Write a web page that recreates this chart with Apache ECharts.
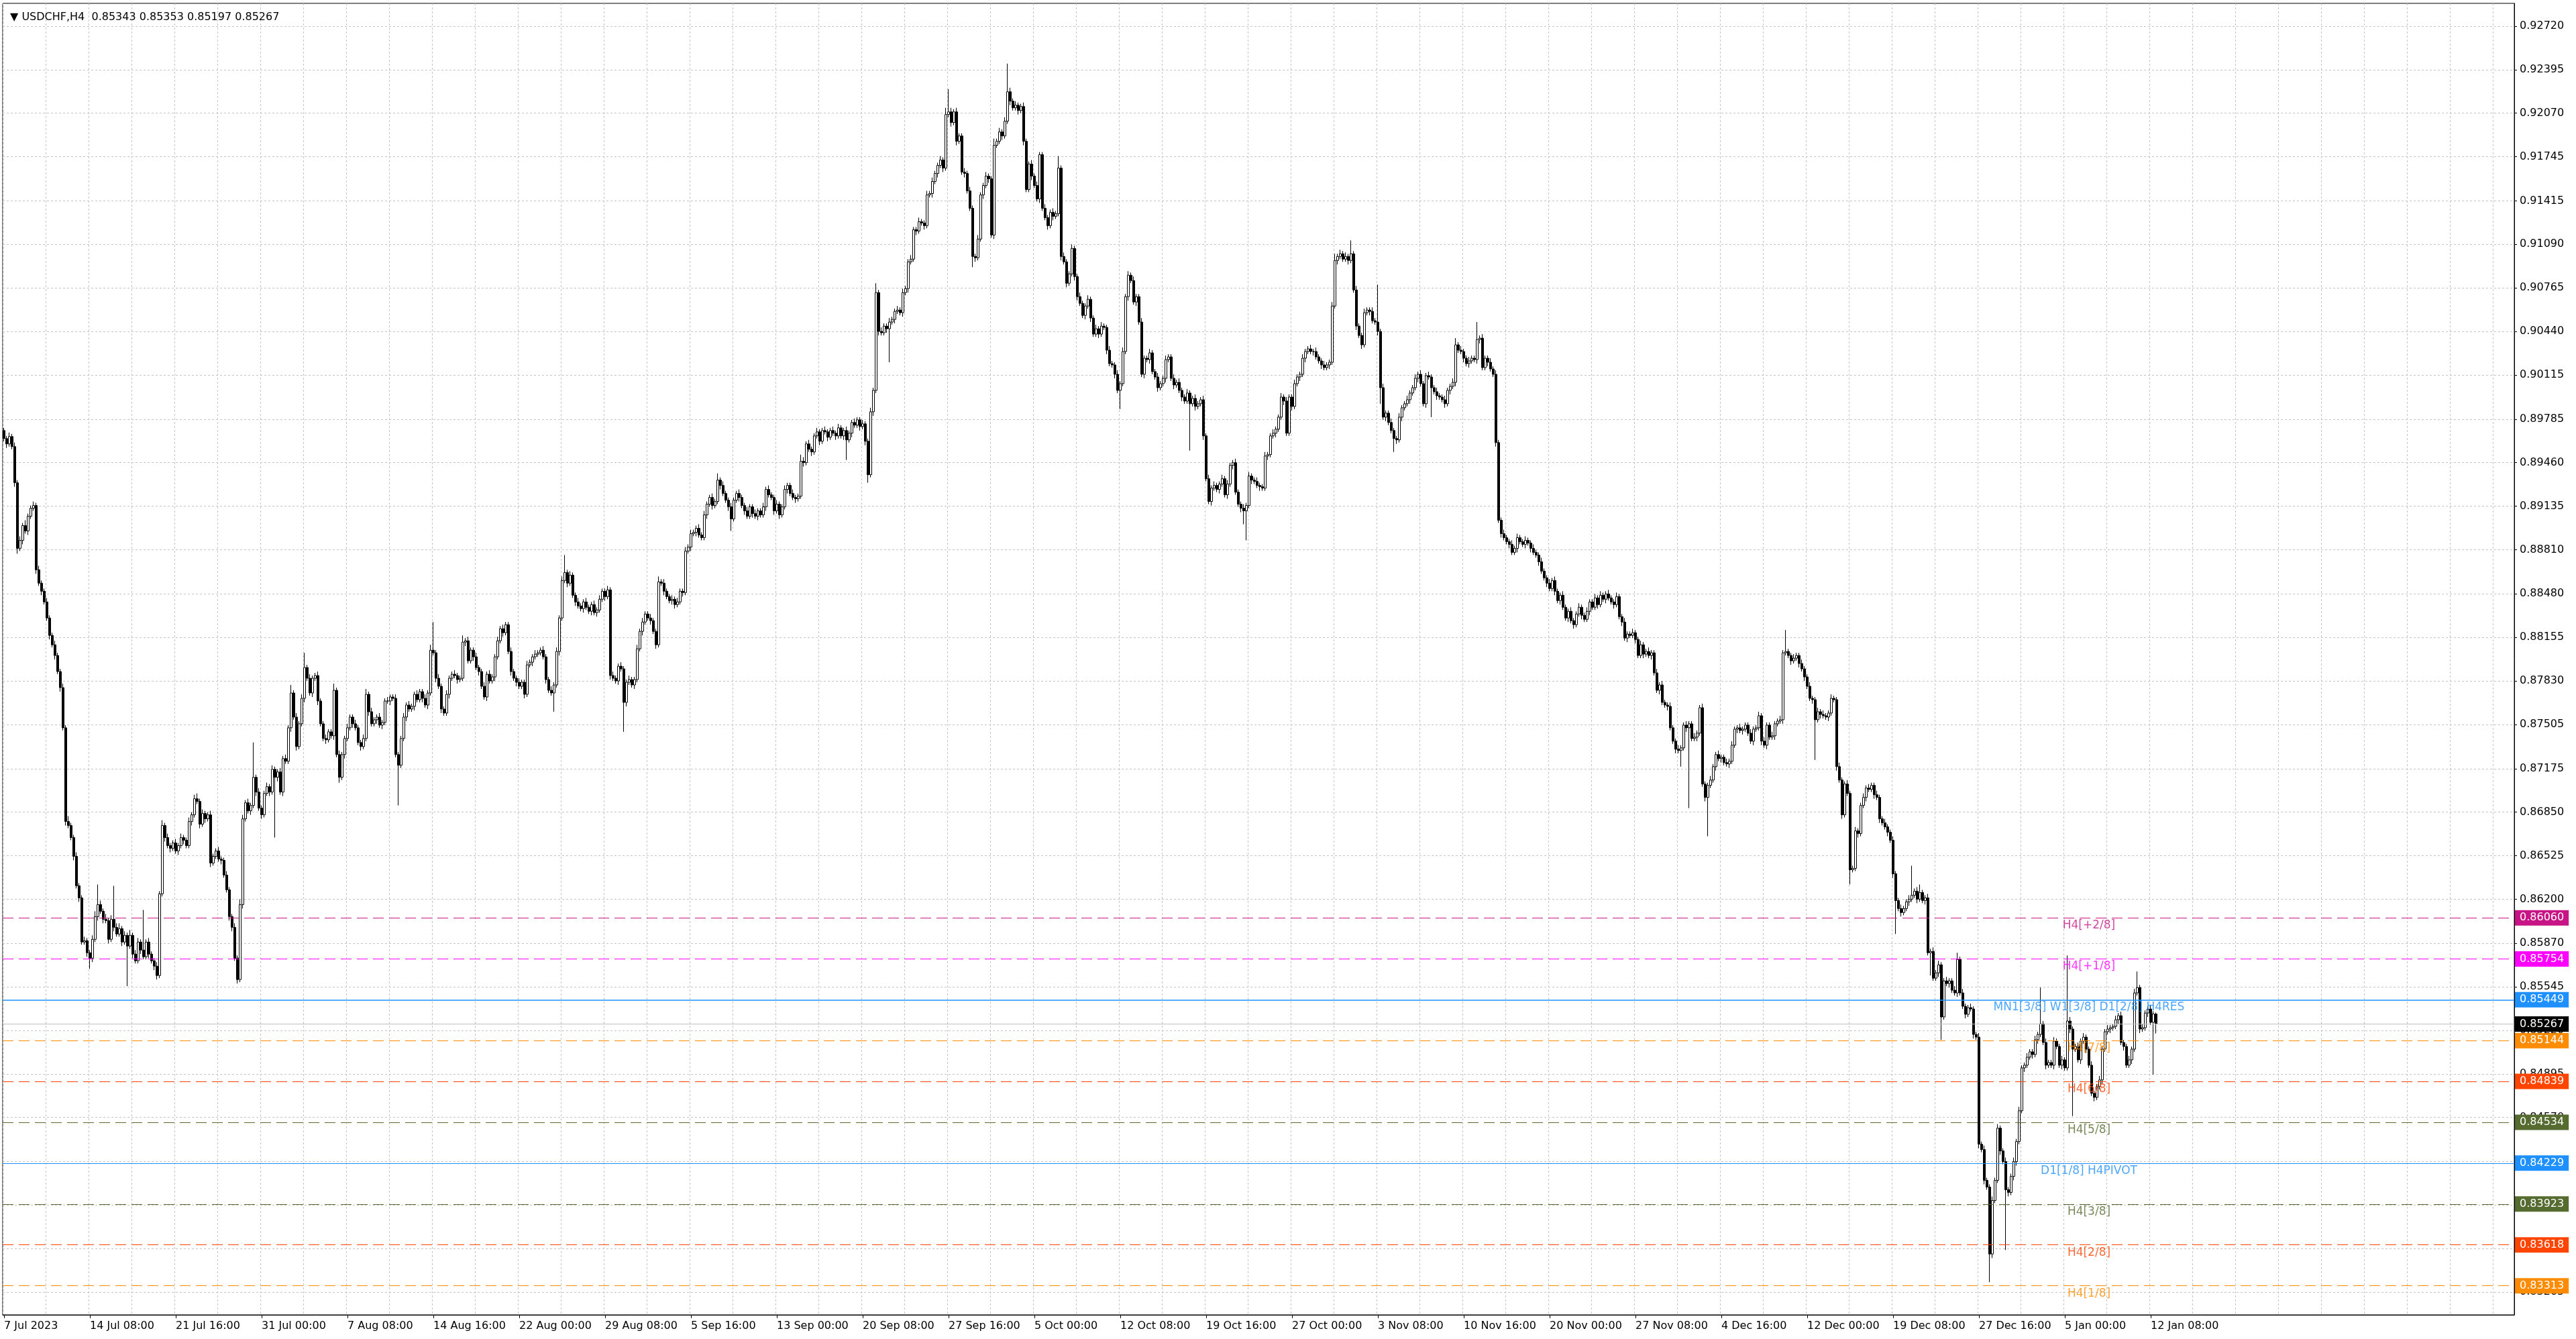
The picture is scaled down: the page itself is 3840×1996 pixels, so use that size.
<!DOCTYPE html>
<html lang="en">
<head>
<meta charset="UTF-8">
<title>USDCHF,H4</title>
<script src="https://cdn.jsdelivr.net/npm/echarts@6/dist/echarts.min.js"></script>
<style>
  body { margin: 0; background: #fff; }
  #main { width: 100vw; height: 100vh; }
</style>
</head>
<body>
<div id="main"></div>
<script>
var symbolName = 'USDCHF,H4';

// H4 bars, prices in 1/100000 (5-digit points); each bar opens at the previous close
var firstOpen = 89700;
var closes = [
  89640,89600,89655,89580,89310,88820,88880,88990,88950,89060,
  89120,89140,88660,88560,88500,88420,88300,88170,88100,88020,
  87900,87780,87480,86780,86750,86660,86520,86300,86210,85880,
  85890,85800,85760,85900,86070,86160,86110,86050,86040,85900,
  86050,85990,85940,85980,85880,85930,85850,85930,85790,85740,
  85880,85820,85770,85880,85790,85740,85700,85630,86240,86750,
  86660,86600,86580,86620,86560,86600,86660,86640,86600,86780,
  86830,86950,86930,86760,86840,86800,86830,86470,86520,86560,
  86500,86490,86380,86270,86070,85990,85760,85600,86160,86800,
  86920,86860,86900,87110,87000,86880,86830,86990,87040,87000,
  87170,87110,87150,87000,87250,87230,87480,87740,87560,87340,
  87510,87700,87930,87850,87740,87850,87870,87680,87510,87400,
  87390,87450,87420,87760,87280,87110,87280,87400,87480,87560,
  87510,87480,87370,87340,87400,87730,87600,87510,87540,87560,
  87500,87520,87680,87680,87710,87700,87280,87200,87400,87560,
  87650,87620,87640,87730,87690,87750,87700,87650,87740,88060,
  88040,87850,87790,87620,87590,87730,87850,87880,87870,87840,
  87850,88120,88130,87980,88060,88010,87930,87900,87790,87710,
  87880,87830,87860,88010,88130,88220,88190,88250,88050,87900,
  87850,87820,87790,87820,87730,87950,87970,88010,88030,88040,
  88060,88010,87840,87760,87740,87800,88050,88300,88580,88640,
  88560,88620,88470,88420,88390,88370,88420,88380,88350,88400,
  88340,88360,88440,88500,88460,88510,87870,87850,87830,87940,
  87920,87670,87820,87840,87800,87840,88070,88200,88270,88330,
  88300,88280,88200,88100,88570,88560,88500,88460,88430,88440,
  88400,88420,88500,88490,88800,88830,88930,88940,88970,88920,
  88900,89070,89150,89200,89140,89170,89330,89290,89230,89180,
  89130,89040,89180,89230,89200,89140,89100,89060,89130,89080,
  89060,89100,89070,89130,89260,89220,89200,89100,89150,89070,
  89130,89260,89290,89230,89200,89190,89210,89470,89460,89600,
  89560,89540,89660,89690,89620,89700,89690,89650,89700,89680,
  89660,89720,89660,89700,89630,89680,89760,89740,89780,89730,
  89750,89620,89370,89840,90000,90730,90440,90430,90480,90460,
  90510,90530,90590,90600,90580,90730,90760,90960,90980,91200,
  91190,91260,91250,91230,91460,91470,91560,91620,91680,91720,
  91660,92060,92080,92000,92080,91860,91900,91630,91620,91490,
  91360,91000,90990,91130,91460,91530,91600,91580,91160,91830,
  91860,91930,91900,92010,92230,92160,92110,92130,92090,92120,
  91860,91500,91690,91600,91530,91430,91760,91360,91290,91230,
  91330,91300,91320,91660,91000,90960,90800,90870,91060,90850,
  90700,90650,90560,90630,90680,90540,90420,90460,90420,90480,
  90470,90300,90200,90190,90120,90000,90050,90290,90700,90860,
  90820,90660,90700,90510,90120,90240,90230,90280,90140,90100,
  90020,90050,90090,90230,90250,90090,90040,90060,90000,89950,
  89920,89980,89900,89940,89880,89900,89930,89660,89340,89170,
  89270,89290,89260,89300,89340,89220,89300,89440,89460,89240,
  89150,89120,89100,89140,89360,89330,89320,89290,89280,89270,
  89510,89520,89660,89680,89710,89800,89950,89920,89680,89950,
  89880,90050,90100,90120,90240,90290,90310,90290,90290,90250,
  90220,90190,90170,90190,90210,90630,90970,91000,91020,90980,
  91000,90970,91020,90750,90480,90410,90340,90580,90600,90590,
  90520,90510,90440,90020,89800,89830,89760,89700,89640,89630,
  89800,89870,89900,89930,89980,90020,90090,90120,90050,89900,
  90110,90100,90020,89990,89960,89950,89930,89900,90000,90030,
  90060,90340,90300,90290,90240,90200,90220,90240,90230,90380,
  90390,90170,90240,90210,90160,90120,89610,89030,88930,88900,
  88870,88850,88790,88820,88900,88870,88850,88880,88860,88820,
  88790,88770,88720,88650,88600,88560,88520,88580,88500,88430,
  88470,88380,88300,88350,88280,88250,88330,88380,88320,88290,
  88350,88420,88380,88450,88400,88470,88440,88480,88450,88420,
  88400,88460,88310,88270,88150,88180,88170,88190,88140,88020,
  88100,88030,88050,88020,88040,87890,87760,87800,87670,87650,
  87640,87480,87380,87320,87310,87330,87500,87480,87510,87400,
  87410,87440,87630,87060,86960,87050,87090,87190,87280,87250,
  87260,87220,87210,87230,87350,87470,87480,87460,87470,87500,
  87440,87380,87470,87480,87570,87380,87350,87500,87410,87420,
  87510,87530,87540,88040,88050,88020,87980,88000,88020,87960,
  87920,87860,87790,87700,87690,87540,87600,87580,87570,87560,
  87590,87700,87690,87190,87090,86830,87060,86990,86420,86430,
  86710,86690,86900,86960,87030,87020,87050,86980,86960,86800,
  86770,86740,86700,86640,86390,86190,86130,86100,86130,86180,
  86200,86230,86260,86200,86250,86190,86210,85800,85810,85610,
  85650,85710,85320,85590,85570,85590,85520,85500,85750,85500,
  85400,85340,85390,85380,85190,85170,84370,84330,84100,84050,
  83550,83950,84100,84490,84320,84240,84030,84010,84130,84240,
  84390,84620,84940,84960,85020,85060,85040,85150,85190,85270,
  85130,84960,84980,84960,85140,85100,84960,85000,84940,85290,
  85230,85080,85100,85000,85140,85170,85080,84960,84750,84720,
  84800,84850,85080,85210,85230,85240,85250,85300,85330,85130,
  85100,84960,85000,85080,85500,85540,85230,85240,85350,85380,
  85280,85343,85267
];
// wick lengths in pips above the body top / below the body bottom
var upWicks = [
  2,2,3,2,3,2,3,2,4,2, 2,3,2,3,2,2,3,2,2,3, 2,2,3,2,4,2,2,3,2,2, 3,2,2,3,4,15,3,2,4,2, 3,25,3,4,2,3,2,4,2,3,
  3,2,30,2,3,2,2,3,2,4, 2,3,2,2,3,2,3,2,2,3, 2,3,4,2,3,2,2,3,2,2, 3,2,2,3,2,2,3,2,4,3, 2,3,2,26,2,3,2,2,3,2,
  3,2,2,3,2,3,2,6,2,3, 2,3,11,2,3,2,2,3,2,2, 3,2,2,5,2,3,2,2,3,2, 2,3,2,2,3,4,2,3,2,2, 3,2,2,3,2,2,3,2,2,3,
  2,3,2,2,3,2,2,3,2,4, 21,2,3,2,2,3,2,2,3,2, 2,5,2,3,2,2,3,2,2,3, 2,3,2,2,3,2,3,2,2,3, 2,2,3,2,2,3,2,2,3,2,
  2,3,2,2,3,2,3,2,3,13, 2,3,2,2,3,2,2,3,2,2, 3,2,3,2,2,3,2,3,2,2, 3,2,2,3,2,2,3,2,3,2, 2,3,2,2,4,2,3,2,2,3,
  2,3,2,2,3,2,3,2,2,3, 2,3,2,2,3,2,5,2,3,2, 2,3,2,2,3,2,2,3,2,2, 3,2,2,3,2,3,2,2,3,2, 2,3,2,2,3,2,2,5,3,2,
  3,2,2,3,2,2,3,2,2,3, 2,3,2,2,3,2,2,3,2,2, 3,2,2,3,2,7,2,3,2,2, 3,2,2,3,2,3,2,2,3,2, 2,3,2,2,3,2,3,2,2,3,
  2,5,17,3,2,3,2,2,3,2, 3,2,2,3,2,2,3,2,2,5, 2,3,2,3,21,3,2,3,2,2, 3,2,2,3,2,3,2,2,3,2, 2,3,2,9,2,3,2,2,3,2,
  2,3,2,2,3,2,2,3,2,3, 2,2,3,2,2,3,2,3,2,3, 2,3,2,2,3,2,2,3,2,2, 3,2,2,3,2,2,3,2,3,2, 2,3,2,2,3,2,2,3,2,3,
  2,3,2,2,3,2,3,2,2,3, 2,2,3,2,3,2,2,3,2,2, 3,2,2,3,2,2,3,2,3,2, 2,3,2,2,3,2,2,3,2,3, 2,2,3,2,2,3,5,2,3,2,
  3,2,10,2,3,2,2,3,2,2, 3,2,28,2,3,2,2,3,2,2, 3,2,2,3,2,2,3,2,3,2, 2,3,2,2,3,2,2,3,2,2, 3,5,2,3,2,2,3,2,2,13,
  2,3,2,2,3,2,3,2,2,3, 2,2,3,2,3,2,2,3,2,2, 3,2,2,3,2,2,3,2,3,2, 2,3,2,2,3,2,2,3,2,2, 3,2,2,3,2,3,2,2,3,2,
  2,3,2,2,3,2,2,3,2,2, 3,2,2,3,2,2,3,2,3,2, 2,3,2,2,3,2,2,3,2,2, 3,2,2,3,2,2,3,2,2,3, 2,2,3,2,3,2,2,3,2,2,
  2,3,2,2,3,2,3,2,2,3, 2,2,3,2,16,2,2,3,2,2, 3,2,2,3,2,2,3,2,3,2, 2,3,2,2,3,2,2,3,2,2, 3,2,2,3,2,3,2,2,3,2,
  2,3,2,2,3,2,2,3,2,2, 3,22,2,3,6,2,2,3,2,3, 2,3,2,2,3,2,2,3,5,2, 3,2,2,3,2,2,3,2,3,2, 2,3,2,3,2,2,3,2,2,3,
  2,3,2,2,3,2,2,3,2,27, 2,3,2,2,3,2,2,3,2,49, 3,2,2,3,2,3,2,2,3,2, 2,3,2,2,3,2,2,3,2,3, 2,2,3,2,3,12,2,3,2,2,
  3,2,1
];
var downWicks = [
  2,3,2,2,3,4,2,3,2,3, 2,2,3,2,3,2,2,3,2,3, 2,3,2,3,2,2,3,2,3,2, 2,3,8,3,2,3,2,3,2,3, 2,3,2,2,3,2,30,2,3,2,
  2,3,2,2,3,2,3,3,2,2, 3,2,3,2,2,3,2,3,2,2, 3,2,2,3,2,3,2,3,2,2, 2,3,2,2,3,3,2,3,2,3, 2,2,3,2,3,2,3,2,2,3,
  2,45,3,2,3,2,2,3,2,3, 2,2,3,2,2,3,2,3,2,2, 3,2,2,3,2,4,2,3,2,2, 3,2,2,3,2,2,3,2,2,3, 2,3,2,2,3,2,2,30,2,2,
  3,2,2,3,2,2,3,2,3,2, 2,3,2,3,2,2,3,2,2,3, 2,2,3,2,2,3,2,3,2,2, 3,2,2,3,2,2,3,2,2,3, 2,3,2,2,3,2,2,3,2,2,
  2,2,3,2,2,14,2,3,2,2, 3,2,2,3,2,2,3,2,2,3, 2,3,2,2,3,2,3,2,2,3, 2,22,3,2,2,3,2,2,3,2, 2,3,2,3,2,2,3,2,2,3,
  3,2,2,3,2,2,3,2,3,2, 2,2,3,2,3,2,2,3,2,2, 3,9,2,2,3,2,3,2,2,3, 2,3,2,2,3,2,2,3,2,3, 2,2,3,2,2,3,2,2,3,2,
  2,3,2,2,3,2,2,3,2,2, 3,2,2,3,15,2,3,2,2,3, 2,3,6,2,3,2,3,2,2,3, 25,2,3,2,2,3,2,3,2,2, 3,2,2,3,2,2,3,2,3,2,
  3,2,2,3,2,3,2,2,3,2, 2,8,3,2,2,3,2,3,2,3, 2,2,3,2,2,3,2,2,3,2, 3,2,2,3,2,2,3,2,2,3, 2,3,2,2,3,2,3,2,2,3,
  3,2,2,3,2,3,2,2,3,2, 2,3,2,2,3,2,14,2,2,3, 2,2,3,2,2,3,2,3,2,2, 3,2,2,3,2,2,3,2,2,3, 2,2,35,2,3,2,2,3,2,2,
  3,2,2,3,2,2,3,2,3,2, 2,3,10,22,2,3,2,2,3,2, 2,3,2,2,3,2,2,3,2,2, 3,2,2,3,2,3,2,2,3,2, 2,3,2,2,3,2,2,3,2,2,
  2,3,2,2,3,2,3,2,2,3, 2,2,3,12,2,3,2,2,10,3, 2,3,2,2,3,2,2,3,2,2, 3,2,22,2,3,2,2,3,2,3, 2,3,2,2,3,2,3,2,2,3,
  3,2,2,3,2,2,3,2,3,2, 2,3,2,2,3,2,2,3,2,3, 2,2,3,2,2,3,2,2,3,2, 3,2,2,3,2,3,2,2,3,2, 2,3,2,2,3,2,2,3,2,2,
  3,2,2,3,2,3,2,2,3,2, 2,3,2,2,3,2,2,3,2,2, 3,2,2,3,2,12,2,3,60,2, 2,3,2,2,3,29,2,2,3,2, 3,2,2,3,2,2,3,2,3,2,
  2,2,3,2,2,3,2,3,2,2, 3,2,2,3,2,2,3,2,2,3, 2,3,2,2,3,30,2,3,2,2, 3,2,2,3,2,3,2,2,11,2, 2,3,2,2,3,2,2,3,2,3,
  2,2,3,2,3,25,2,3,2,2, 3,2,2,3,2,2,3,2,17,2, 2,3,17,2,2,3,2,2,3,2, 2,3,2,2,3,2,3,2,3,2, 21,3,2,2,3,2,45,3,2,3,
  3,2,2,3,2,2,3,2,3,2, 2,3,2,2,3,2,2,3,2,2, 3,50,2,2,3,2,3,2,2,3, 2,2,3,2,2,3,2,2,3,2, 3,2,2,3,2,2,3,2,2,3,
  2,39,7
];

// bar slots across the window (chart shift leaves the right part empty)
var totalSlots = 936;
var barsPerLabel = 32;
var barsPerGridLine = 16;
var xTickLabels = [
  '7 Jul 2023', '14 Jul 08:00', '21 Jul 16:00', '31 Jul 00:00', '7 Aug 08:00', '14 Aug 16:00',
  '22 Aug 00:00', '29 Aug 08:00', '5 Sep 16:00', '13 Sep 00:00', '20 Sep 08:00', '27 Sep 16:00',
  '5 Oct 00:00', '12 Oct 08:00', '19 Oct 16:00', '27 Oct 00:00', '3 Nov 08:00', '10 Nov 16:00',
  '20 Nov 00:00', '27 Nov 08:00', '4 Dec 16:00', '12 Dec 00:00', '19 Dec 08:00', '27 Dec 16:00',
  '5 Jan 00:00', '12 Jan 08:00'
];
var yTickLabels = [
  '0.92720', '0.92395', '0.92070', '0.91745', '0.91415', '0.91090', '0.90765', '0.90440',
  '0.90115', '0.89785', '0.89460', '0.89135', '0.88810', '0.88480', '0.88155', '0.87830',
  '0.87505', '0.87175', '0.86850', '0.86525', '0.86200', '0.85870', '0.85545', '0.85220',
  '0.84895', '0.84570', '0.84240', '0.83915', '0.83590', '0.83265'
];
var priceMin = 0.830957;
var priceMax = 0.928903;

// Murrey math levels drawn by the indicator
var levelPrices = [0.86060, 0.85754, 0.85449, 0.85144, 0.84839, 0.84534, 0.84229, 0.83923, 0.83618, 0.83313];
var levelNames = ['H4[+2/8]', 'H4[+1/8]', 'MN1[3/8] W1[3/8] D1[2/8] H4RES', 'H4[7/8]', 'H4[6/8]',
  'H4[5/8]', 'D1[1/8] H4PIVOT', 'H4[3/8]', 'H4[2/8]', 'H4[1/8]'];
var levelColors = ['#C71585', '#FF00FF', '#1E90FF', '#FF8C00', '#FF4500', '#556B2F', '#1E90FF', '#556B2F', '#FF4500', '#FF8C00'];
var levelSolid = [false, false, true, false, false, false, true, false, false, false];
var levelLabelBar = 777;
var bidPrice = 0.85267;

var FONT = 'DejaVu Sans';

var categories = [];
for (var s = 0; s < totalSlots; s++) {
    categories.push(String(s));
}

var candles = [];
var prevClose = firstOpen;
for (var i = 0; i < closes.length; i++) {
    var o = prevClose, c = closes[i];
    var hi = Math.max(o, c) + upWicks[i] * 10;
    var lo = Math.min(o, c) - downWicks[i] * 10;
    candles.push([o / 1e5, c / 1e5, lo / 1e5, hi / 1e5]);
    prevClose = c;
}
var lastBar = candles[candles.length - 1];
var headerText = '\u25BC ' + symbolName + '  ' +
    [lastBar[0], lastBar[3], lastBar[2], lastBar[1]].map(function (v) { return v.toFixed(5); }).join(' ');

var yTickValues = yTickLabels.map(Number);

var labelTick = function (index) {
    return index % barsPerLabel === 0 && index / barsPerLabel < xTickLabels.length;
};

var levelLines = levelPrices.map(function (p, i) {
    return {
        yAxis: p,
        lineStyle: { color: levelColors[i], type: levelSolid[i] ? 'solid' : [16, 8], width: i === 2 ? 1.5 : 1 },
        label: { backgroundColor: levelColors[i], formatter: p.toFixed(5) }
    };
});
levelLines.push({
    yAxis: bidPrice,
    lineStyle: { color: '#C0C0C0', type: 'solid', width: 1 },
    label: { backgroundColor: '#000000', formatter: bidPrice.toFixed(5) }
});

option = {
    backgroundColor: '#ffffff',
    animation: false,
    title: {
        text: headerText,
        left: 10,
        top: 13,
        textStyle: { fontFamily: FONT, fontSize: 16, fontWeight: 'normal', color: '#000' }
    },
    grid: {
        left: 4,
        right: 92,
        top: 5,
        bottom: 36,
        show: true,
        borderColor: '#000',
        borderWidth: 1,
        backgroundColor: '#fff',
        outerBoundsMode: 'none'
    },
    xAxis: {
        type: 'category',
        data: categories,
        boundaryGap: true,
        axisLine: { show: true, lineStyle: { color: '#000', width: 1 } },
        axisTick: { show: true, alignWithLabel: true, interval: labelTick, length: 5, lineStyle: { color: '#000' } },
        axisLabel: {
            interval: labelTick,
            formatter: function (v) { return xTickLabels[Number(v) / barsPerLabel]; },
            align: 'left',
            margin: 9,
            color: '#000',
            fontFamily: FONT,
            fontSize: 16
        },
        splitLine: {
            show: true,
            interval: function (index) { return index % barsPerGridLine === 0; },
            lineStyle: { color: '#c4c4c4', type: [3, 3], width: 1 }
        }
    },
    yAxis: {
        type: 'value',
        position: 'right',
        min: priceMin,
        max: priceMax,
        axisLine: { show: true, lineStyle: { color: '#000', width: 1 } },
        axisTick: { show: true, length: 4, customValues: yTickValues, lineStyle: { color: '#000' } },
        axisLabel: {
            customValues: yTickValues,
            formatter: function (v) { return v.toFixed(5); },
            color: '#000',
            fontFamily: FONT,
            fontSize: 16,
            margin: 8
        },
        splitLine: { show: true, lineStyle: { color: '#c4c4c4', type: [3, 3], width: 1 } }
    },
    series: [{
        name: symbolName,
        type: 'candlestick',
        data: candles,
        barWidth: 3,
        large: false,
        itemStyle: {
            color: '#ffffff',
            color0: '#000000',
            borderColor: '#000000',
            borderColor0: '#000000',
            borderWidth: 1
        },
        markLine: {
            silent: true,
            symbol: ['none', 'none'],
            precision: 5,
            animation: false,
            label: {
                show: true,
                position: 'end',
                distance: 1,
                color: '#fff',
                padding: [4, 7, 3, 7],
                fontFamily: FONT,
                fontSize: 16
            },
            data: levelLines
        }
    }, {
        name: 'levels',
        type: 'scatter',
        silent: true,
        symbolSize: 0,
        z: 5,
        data: levelPrices.map(function (p, i) {
            return { value: [levelLabelBar, p], label: { color: levelColors[i] } };
        }),
        label: {
            show: true,
            position: 'bottom',
            distance: 3,
            fontFamily: FONT,
            fontSize: 17,
            formatter: function (params) { return levelNames[params.dataIndex]; }
        }
    }]
};

var myChart = echarts.init(document.getElementById('main'));
myChart.setOption(option);
</script>
</body>
</html>
